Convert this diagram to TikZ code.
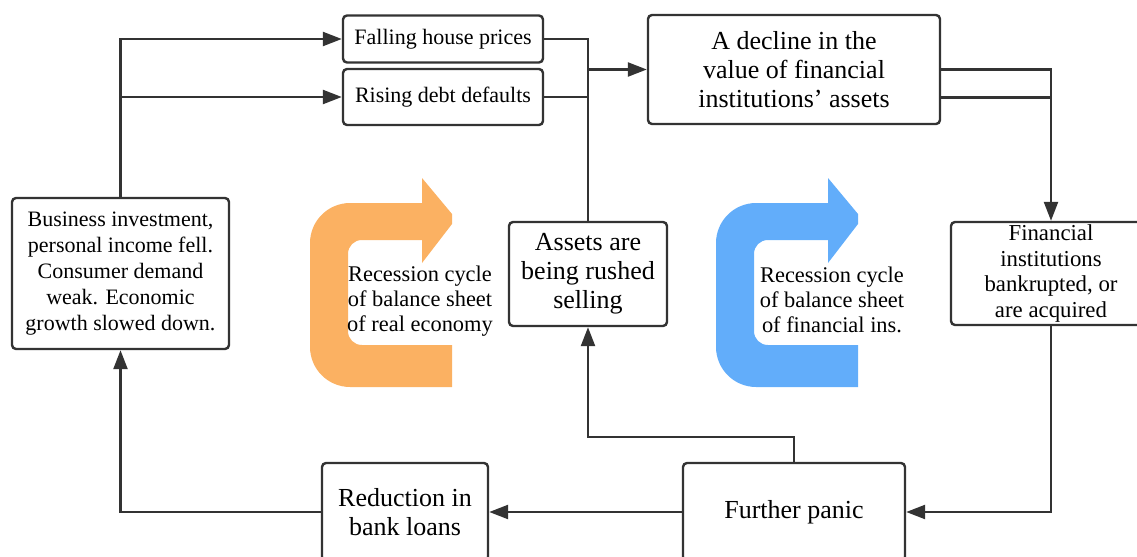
\documentclass[tikz,border=0pt]{standalone}
\usepackage{fontspec}
\setmainfont{Liberation Serif}
\usetikzlibrary{arrows.meta,calc}
\definecolor{lncol}{HTML}{333333}
\definecolor{org}{HTML}{FBB162}
\definecolor{blu}{HTML}{62ADFA}
\begin{document}
\begin{tikzpicture}[x=0.5pt,y=-0.5pt,
  box/.style={draw=lncol, line width=1.2pt, rounded corners=2pt, align=center, inner sep=0pt, fill=white},
  sm/.style={font=\fontsize{11}{13}\selectfont},
  fs/.style={font=\fontsize{11.4}{12.9}\selectfont},
  lg/.style={font=\fontsize{13}{14.5}\selectfont},
  lbl/.style={align=center, inner sep=0pt, font=\fontsize{11.2}{12.5}\selectfont},
  conn/.style={draw=lncol, line width=1.2pt},
  arr/.style={draw=lncol, line width=1.2pt, -{Triangle[length=9.5pt,width=7pt]}}]
\useasboundingbox (0,0) rectangle (1137,557);
\clip (0,0) rectangle (1137,557);
% cycle arrows
\fill[org] (422,203) -- (350,203) .. controls (328,203) and (310,221) .. (310,243) -- (310,347) .. controls (310,369) and (328,387) .. (350,387) -- (452,387) -- (452,345) -- (362,345) .. controls (354,345) and (348,339) .. (348,331) -- (348,254) .. controls (348,246) and (354,240) .. (362,240) -- (422,240) -- (422,263) -- (452,224) -- (452,214) -- (422,178) -- cycle;
\begin{scope}[shift={(406,0)}]
\fill[blu] (422,203) -- (350,203) .. controls (328,203) and (310,221) .. (310,243) -- (310,347) .. controls (310,369) and (328,387) .. (350,387) -- (452,387) -- (452,345) -- (362,345) .. controls (354,345) and (348,339) .. (348,331) -- (348,254) .. controls (348,246) and (354,240) .. (362,240) -- (422,240) -- (422,263) -- (452,224) -- (452,214) -- (422,178) -- cycle;
\end{scope}
\node[lbl] (t1) at (420,301) {Recession cycle\\of balance sheet\\of real economy};
\node[lbl] (t2) at (832,300) {Recession cycle\\of balance sheet\\of financial ins.};
% boxes
\node[box,sm,minimum width=100pt,minimum height=23.5pt] (fhp) at (443,39) {Falling house prices};
\node[box,sm,minimum width=100pt,minimum height=28pt] (rdd) at (443,97) {Rising debt defaults};
\node[box,lg,minimum width=146pt,minimum height=54.5pt] (dec) at (794,69.5) {A decline in the\\value of financial\\institutions’ assets};
\node[box,sm,minimum width=108.5pt,minimum height=75.5pt] (biz) at (120.5,273.5) {Business investment,\\personal income fell.\\Consumer demand\\weak. Economic\\growth slowed down.};
\node[box,lg,minimum width=79pt,minimum height=52pt] (ast) at (588,274) {Assets are\\being rushed\\selling};
\node[box,fs,minimum width=100pt,minimum height=51.5pt] (fin) at (1051,273.5) {Financial\\institutions\\bankrupted, or\\are acquired};
\node[box,lg,minimum width=83pt,minimum height=49pt] (red) at (405,512) {Reduction in\\bank loans};
\node[box,lg,minimum width=111pt,minimum height=49pt] (pan) at (794,512) {Further panic};
% connectors
\draw[arr] (biz.north) |- (fhp.west);
\draw[arr] (biz.north |- rdd.west) -- (rdd.west);
\draw[conn] (fhp.east) -- (fhp.east -| ast.north) -- (ast.north);
\draw[conn] (rdd.east) -- (rdd.east -| ast.north);
\draw[arr] (ast.north |- dec.west) -- (dec.west);
\coordinate (d2) at ($(dec.east)!0.5!(dec.south east)$);
\draw[arr] (dec.east) -| (fin.north);
\draw[conn] (d2) -- (d2 -| fin.north);
\draw[arr] (fin.south) |- (pan.east);
\draw[arr] (pan.north) -- ++(0,-25) -| (ast.south);
\draw[arr] (pan.west) -- (red.east);
\draw[arr] (red.west) -| (biz.south);
\end{tikzpicture}
\end{document}
